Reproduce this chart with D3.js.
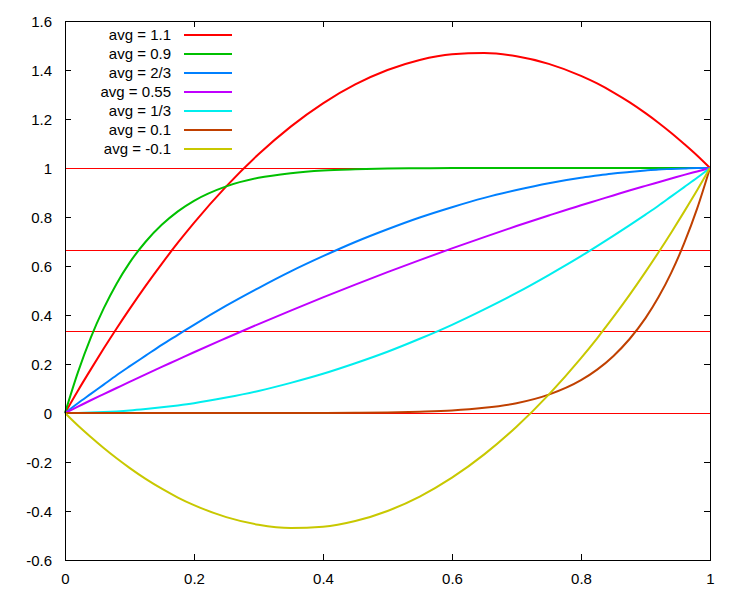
<!DOCTYPE html>
<html>
<head>
<meta charset="utf-8">
<script src="https://cdn.jsdelivr.net/npm/d3@7"></script>
<style>
  html, body { margin: 0; padding: 0; background: #fff; }
  svg { display: block; }
  text { font-family: "Liberation Sans", Arial, sans-serif; font-size: 15px; fill: #000; }
</style>
</head>
<body>
<svg id="chart" width="750" height="600"></svg>
<script>
// ---- data ----
const xValues = [0, 0.02, 0.04, 0.06, 0.08, 0.1, 0.125, 0.15, 0.175, 0.2, 0.25, 0.3, 0.35, 0.4, 0.45, 0.5,
  0.55, 0.6, 0.65, 0.7, 0.75, 0.8, 0.825, 0.85, 0.875, 0.9, 0.92, 0.94, 0.96, 0.98, 1];

const seriesNames = ["avg = 1.1", "avg = 0.9", "avg = 2/3", "avg = 0.55", "avg = 1/3", "avg = 0.1", "avg = -0.1"];

const avg11 = [0, 0.091, 0.178, 0.263, 0.345, 0.424, 0.519, 0.609, 0.695, 0.776, 0.925, 1.056, 1.169, 1.264, 1.341, 1.400,
  1.441, 1.464, 1.469, 1.456, 1.425, 1.376, 1.345, 1.309, 1.269, 1.224, 1.185, 1.143, 1.098, 1.051, 1.000];
const avg09 = [0, 0.166, 0.308, 0.427, 0.528, 0.613, 0.699, 0.768, 0.823, 0.866, 0.925, 0.960, 0.979, 0.990, 0.995, 0.998,
  0.999, 1.000, 1.000, 1.000, 1.000, 1.000, 1.000, 1.000, 1.000, 1.000, 1.000, 1.000, 1.000, 1.000, 1.000];
const avg23 = [0, 0.040, 0.078, 0.116, 0.154, 0.190, 0.234, 0.278, 0.319, 0.360, 0.438, 0.510, 0.578, 0.640, 0.698, 0.750,
  0.798, 0.840, 0.878, 0.910, 0.938, 0.960, 0.969, 0.978, 0.984, 0.990, 0.994, 0.996, 0.998, 1.000, 1.000];
const avg055 = [0, 0.026, 0.052, 0.077, 0.102, 0.127, 0.158, 0.188, 0.218, 0.248, 0.306, 0.363, 0.418, 0.472, 0.524, 0.575,
  0.624, 0.672, 0.718, 0.763, 0.806, 0.848, 0.868, 0.888, 0.908, 0.927, 0.942, 0.957, 0.972, 0.986, 1.000];
const avg13 = [0, 0.0004, 0.0016, 0.0036, 0.0064, 0.010, 0.016, 0.023, 0.031, 0.040, 0.063, 0.090, 0.123, 0.160, 0.203, 0.250,
  0.303, 0.360, 0.423, 0.490, 0.563, 0.640, 0.681, 0.723, 0.766, 0.810, 0.846, 0.884, 0.922, 0.960, 1.000];
const avg01 = [0, 0, 0, 0, 0, 0, 0, 0, 0, 0, 0, 0, 0.0001, 0.0003, 0.0008, 0.002,
  0.005, 0.010, 0.021, 0.040, 0.075, 0.134, 0.177, 0.232, 0.301, 0.387, 0.472, 0.573, 0.693, 0.834, 1.000];
const avgm01 = [0, -0.051, -0.098, -0.143, -0.185, -0.224, -0.269, -0.309, -0.345, -0.376, -0.425, -0.456, -0.469, -0.464, -0.441, -0.400,
  -0.341, -0.264, -0.169, -0.056, 0.075, 0.224, 0.305, 0.391, 0.481, 0.576, 0.655, 0.737, 0.822, 0.909, 1.000];

const seriesValues = [avg11, avg09, avg23, avg055, avg13, avg01, avgm01];
const seriesColors = ["#ff0000", "#00c000", "#0080ff", "#c000ff", "#00eeee", "#c04000", "#c8c800"];

const referenceLevels = [0, 1 / 3, 2 / 3, 1];
const xTicks = [0, 0.2, 0.4, 0.6, 0.8, 1];
const yTicks = [-0.6, -0.4, -0.2, 0, 0.2, 0.4, 0.6, 0.8, 1, 1.2, 1.4, 1.6];

// ---- layout ----
const plotLeft = 65, plotRight = 710, plotTop = 21, plotBottom = 560;
const svg = d3.select("#chart");

const x = d3.scaleLinear().domain([0, 1]).range([plotLeft, plotRight]);
const y = d3.scaleLinear().domain([-0.6, 1.6]).range([plotBottom, plotTop]);

const fmt = d => (Math.abs(d) < 1e-9 ? "0" : String(+d.toFixed(1)));

// axes with inward ticks (mirrored)
const gx = svg.append("g").attr("transform", `translate(0,${plotBottom})`)
  .call(d3.axisBottom(x).tickValues(xTicks).tickSizeInner(-6).tickSizeOuter(0).tickFormat(fmt));
const gxt = svg.append("g").attr("transform", `translate(0,${plotTop})`)
  .call(d3.axisTop(x).tickValues(xTicks).tickSizeInner(-6).tickSizeOuter(0).tickFormat(""));
const gy = svg.append("g").attr("transform", `translate(${plotLeft},0)`)
  .call(d3.axisLeft(y).tickValues(yTicks).tickSizeInner(-6).tickSizeOuter(0).tickFormat(fmt));
const gyr = svg.append("g").attr("transform", `translate(${plotRight},0)`)
  .call(d3.axisRight(y).tickValues(yTicks).tickSizeInner(-6).tickSizeOuter(0).tickFormat(""));

[gx, gxt, gy, gyr].forEach(g => {
  g.select(".domain").remove();
  g.selectAll("line").attr("stroke", "#000").attr("shape-rendering", "crispEdges");
  g.selectAll("text").attr("font-size", 15).attr("font-family", "'Liberation Sans', Arial, sans-serif").attr("fill", "#000");
});
gx.selectAll("text").attr("y", 13).attr("dy", "0.71em");
gy.selectAll("text").attr("x", -13).attr("dy", "0.35em");

// reference horizontal lines
svg.append("g").selectAll("line").data(referenceLevels).join("line")
  .attr("x1", x(0)).attr("x2", x(1))
  .attr("y1", d => Math.round(y(d)) + 0.5).attr("y2", d => Math.round(y(d)) + 0.5)
  .attr("stroke", "#ff0000").attr("stroke-width", 1);

// curves
const line = d3.line()
  .x((d, i) => x(xValues[i]))
  .y(d => y(d))
  .curve(d3.curveMonotoneX);

svg.append("g").selectAll("path").data(seriesValues).join("path")
  .attr("d", d => line(d))
  .attr("fill", "none")
  .attr("stroke", (d, i) => seriesColors[i])
  .attr("stroke-width", 2)
  .attr("stroke-linejoin", "round");

// border
svg.append("rect")
  .attr("x", plotLeft + 0.5).attr("y", plotTop + 0.5)
  .attr("width", plotRight - plotLeft).attr("height", plotBottom - plotTop)
  .attr("fill", "none").attr("stroke", "#000").attr("stroke-width", 1);

// legend
const legend = svg.append("g");
const legendRows = legend.selectAll("g").data(seriesNames).join("g")
  .attr("transform", (d, i) => `translate(0,${35 + i * 19})`);
legendRows.append("text")
  .attr("x", 171).attr("dy", "0.35em")
  .attr("text-anchor", "end")
  .text(d => d);
legendRows.append("line")
  .attr("x1", 184).attr("x2", 232)
  .attr("stroke", (d, i) => seriesColors[i])
  .attr("stroke-width", 2);
</script>
</body>
</html>
